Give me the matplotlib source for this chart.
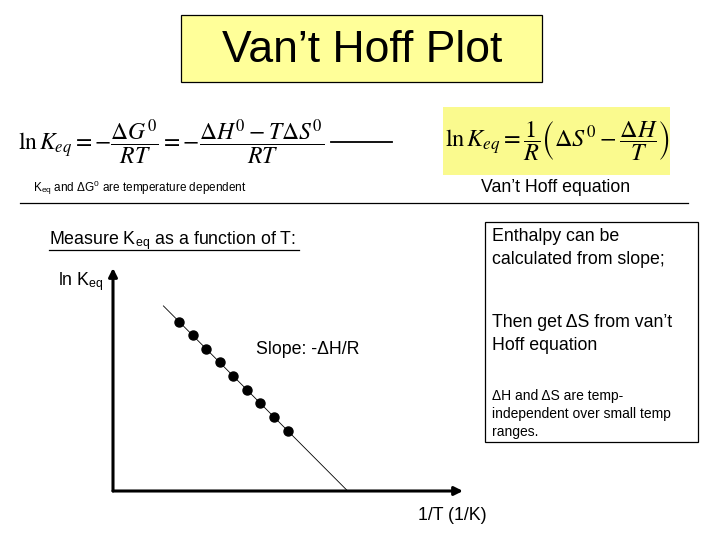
import numpy as np
import matplotlib
matplotlib.use("Agg")
import matplotlib.pyplot as plt
from matplotlib.patches import Rectangle

plt.rcParams['font.family'] = ['Liberation Sans', 'DejaVu Sans']
plt.rcParams['mathtext.fontset'] = 'stix'

# Data (arbitrary units)
inv_T = [1.88, 2.28, 2.67, 3.06, 3.44, 3.82, 4.21, 4.60, 4.99]
ln_K = [7.58, 7.00, 6.35, 5.77, 5.16, 4.53, 3.93, 3.32, 2.70]
fit_x_range = [1.44, 6.68]

title = "Van\u2019t Hoff Plot"
x_label = "1/T (1/K)"
y_label = r"ln K$_{\mathregular{eq}}$"

fig = plt.figure(figsize=(7.2, 5.4), dpi=100)
fig.patch.set_facecolor('white')

bg = fig.add_axes([0, 0, 1, 1])
bg.set_xlim(0, 720)
bg.set_ylim(540, 0)
bg.axis('off')

yellow = '#FFFF99'
body = 12.8
# title box
bg.add_patch(Rectangle((181, 15), 361, 67, facecolor=yellow, edgecolor='black', lw=0.9))
bg.text(362, 50, title, fontsize=32, ha='center', va='center')

# left equation
bg.text(18, 142, r'$\ln K_{eq} = -\dfrac{\Delta G^0}{RT} = -\dfrac{\Delta H^0 - T\Delta S^0}{RT}$',
        fontsize=17, ha='left', va='center')
bg.plot([331, 392], [142, 142], color='black', lw=1.3)

# right equation box
bg.add_patch(Rectangle((443, 107), 227, 68, facecolor='#FAFA8E', edgecolor='none'))
bg.text(557, 141, r'$\ln K_{eq} = \dfrac{1}{R}\left(\Delta S^0 - \dfrac{\Delta H}{T}\right)$',
        fontsize=17.5, ha='center', va='center')
bg.text(556, 187, "Van\u2019t Hoff equation", fontsize=body, ha='center', va='center')

bg.text(33, 188, r"K$_{\mathregular{eq}}$ and $\mathregular{\Delta G^0}$ are temperature dependent",
        fontsize=8.5, ha='left', va='center')
bg.plot([20, 688], [203, 203], color='black', lw=0.9)

# measure text
bg.text(49, 241, r"Measure K$_{\mathregular{eq}}$ as a function of T:", fontsize=body, ha='left', va='center')
bg.plot([49, 299], [250, 250], color='black', lw=0.9)

bg.text(58, 282, y_label, fontsize=body, ha='left', va='center')
bg.text(256, 350, "Slope: -\u0394H/R", fontsize=body, ha='left', va='center')
bg.text(452, 516, x_label, fontsize=body, ha='center', va='center')

# right box
bg.add_patch(Rectangle((485, 222), 213, 220, facecolor='white', edgecolor='black', lw=0.9))
bg.text(492, 248, "Enthalpy can be\ncalculated from slope;", fontsize=body, ha='left', va='center',
        linespacing=1.4)
bg.text(492, 334, "Then get \u0394S from van\u2019t\nHoff equation", fontsize=body, ha='left', va='center',
        linespacing=1.4)
bg.text(492, 414, "\u0394H and \u0394S are temp-\nindependent over small temp\nranges.", fontsize=10,
        ha='left', va='center', linespacing=1.4)

# plot axes
ax = fig.add_axes([113 / 720, (540 - 491) / 540, 350 / 720, 223 / 540])
ax.set_xlim(0, 10)
ax.set_ylim(0, 10)
ax.axis('off')
ax.annotate('', xy=(0, 1), xytext=(0, 0), xycoords='axes fraction',
            arrowprops=dict(arrowstyle='-|>,head_length=0.5,head_width=0.25', lw=2.2, color='black',
                            shrinkA=0, shrinkB=0))
ax.annotate('', xy=(1, 0), xytext=(0, 0), xycoords='axes fraction',
            arrowprops=dict(arrowstyle='-|>,head_length=0.5,head_width=0.25', lw=2.2, color='black',
                            shrinkA=0, shrinkB=0))

slope, intercept = np.polyfit(inv_T, ln_K, 1)
lx = np.array(fit_x_range)
ax.plot(lx, slope * lx + intercept, color='black', lw=0.6)
ax.plot(inv_T, ln_K, 'o', color='black', markersize=6.5, clip_on=False)

fig.savefig('out.png', dpi=100)
